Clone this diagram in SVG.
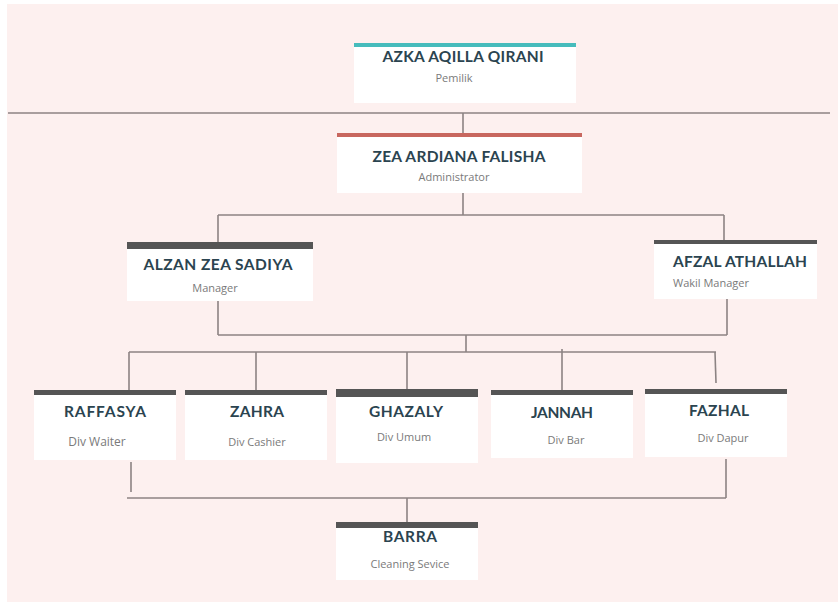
<svg xmlns="http://www.w3.org/2000/svg" width="838" height="602" viewBox="0 0 838 602">
<style>
.box{fill:#ffffff}
.bar{fill:#555555}
.t{font-family:Lato,"Open Sans","Liberation Sans",sans-serif;font-weight:bold;font-size:15.5px;fill:#2b4450;text-anchor:middle}
.s{font-family:"Open Sans","Liberation Sans",sans-serif;font-size:11px;fill:#7a7a7a;text-anchor:middle}
.c{stroke:#8c8383;stroke-width:1.6;fill:none}
</style>
<rect x="0" y="0" width="838" height="602" fill="#ffffff"/>
<rect x="7" y="4" width="831" height="598" fill="#fdf0ef"/>
<g id="connectors" class="c">
<line x1="8" y1="113" x2="830" y2="113"/>
<line x1="463" y1="113" x2="463" y2="133"/>
<line x1="463" y1="193" x2="463" y2="215"/>
<line x1="218" y1="215" x2="724" y2="215"/>
<line x1="218" y1="215" x2="218" y2="242"/>
<line x1="724" y1="215" x2="724" y2="240"/>
<line x1="218" y1="301" x2="218" y2="335"/>
<line x1="727" y1="299" x2="727" y2="335"/>
<line x1="218" y1="335" x2="727" y2="335"/>
<line x1="466" y1="335" x2="466" y2="352"/>
<line x1="129" y1="352" x2="716" y2="352"/>
<line x1="129" y1="352" x2="129" y2="390"/>
<line x1="256" y1="352" x2="256" y2="390"/>
<line x1="407" y1="352" x2="407" y2="389"/>
<line x1="562" y1="349" x2="562" y2="390"/>
<line x1="715" y1="352" x2="716" y2="383"/>
<line x1="131" y1="462" x2="131" y2="492"/>
<line x1="726" y1="459" x2="726" y2="498"/>
<line x1="127" y1="498" x2="726" y2="498"/>
<line x1="407" y1="498" x2="407" y2="522"/>
</g>
<g id="azka">
<rect class="box" x="354" y="43" width="222" height="60"/>
<rect x="354" y="43" width="222" height="4" fill="#46bcbc"/>
<text class="t" x="463" y="62" textLength="161" lengthAdjust="spacing">AZKA AQILLA QIRANI</text>
<text class="s" x="454" y="82">Pemilik</text>
</g>
<g id="zea">
<rect class="box" x="337" y="133" width="245" height="60"/>
<rect x="337" y="133" width="245" height="4" fill="#c8675f"/>
<text class="t" x="459" y="162" textLength="173" lengthAdjust="spacing">ZEA ARDIANA FALISHA</text>
<text class="s" x="454" y="181">Administrator</text>
</g>
<g id="alzan">
<rect class="box" x="127" y="242" width="186" height="59"/>
<rect class="bar" x="127" y="242" width="186" height="7"/>
<text class="t" x="218" y="270" textLength="149" lengthAdjust="spacing">ALZAN ZEA SADIYA</text>
<text class="s" x="215" y="292">Manager</text>
</g>
<g id="afzal">
<rect class="box" x="654" y="240" width="163" height="59"/>
<rect class="bar" x="654" y="240" width="163" height="4"/>
<text class="t" x="673" y="267" style="text-anchor:start" textLength="134" lengthAdjust="spacing">AFZAL ATHALLAH</text>
<text class="s" x="673" y="287" style="text-anchor:start">Wakil Manager</text>
</g>
<g id="raffasya">
<rect class="box" x="34" y="390" width="142" height="70"/>
<rect class="bar" x="34" y="390" width="142" height="5"/>
<text class="t" x="105" y="417" textLength="82" lengthAdjust="spacing">RAFFASYA</text>
<text class="s" x="97" y="446" style="font-size:12px">Div Waiter</text>
</g>
<g id="zahra">
<rect class="box" x="185" y="390" width="142" height="70"/>
<rect class="bar" x="185" y="390" width="142" height="5"/>
<text class="t" x="257" y="417" textLength="54" lengthAdjust="spacing">ZAHRA</text>
<text class="s" x="257" y="446">Div Cashier</text>
</g>
<g id="ghazaly">
<rect class="box" x="336" y="389" width="142" height="74"/>
<rect class="bar" x="336" y="389" width="142" height="8"/>
<text class="t" x="406" y="417" textLength="74" lengthAdjust="spacing">GHAZALY</text>
<text class="s" x="404" y="441">Div Umum</text>
</g>
<g id="jannah">
<rect class="box" x="491" y="390" width="142" height="68"/>
<rect class="bar" x="491" y="390" width="142" height="5"/>
<text class="t" x="562" y="418" textLength="62" lengthAdjust="spacing">JANNAH</text>
<text class="s" x="566" y="444">Div Bar</text>
</g>
<g id="fazhal">
<rect class="box" x="645" y="389" width="142" height="68"/>
<rect class="bar" x="645" y="389" width="142" height="5"/>
<text class="t" x="719" y="416" textLength="60" lengthAdjust="spacing">FAZHAL</text>
<text class="s" x="723" y="442">Div Dapur</text>
</g>
<g id="barra">
<rect class="box" x="336" y="522" width="142" height="58"/>
<rect class="bar" x="336" y="522" width="142" height="6"/>
<text class="t" x="410" y="542" textLength="54" lengthAdjust="spacing">BARRA</text>
<text class="s" x="410" y="568">Cleaning Sevice</text>
</g>
</svg>
